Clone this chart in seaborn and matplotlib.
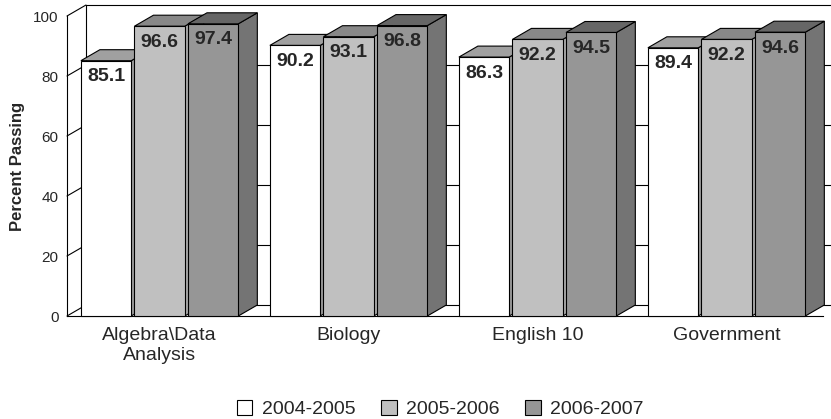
import numpy as np
import pandas as pd
import matplotlib
matplotlib.use("Agg")
import matplotlib.pyplot as plt
from matplotlib.patches import Polygon, Patch
import seaborn as sns

# ----------------------------
# Data
# ----------------------------
subjects = ["Algebra\\Data\nAnalysis", "Biology", "English 10", "Government"]
years = ["2004-2005", "2005-2006", "2006-2007"]
pass_0405 = [85.1, 90.2, 86.3, 89.4]
pass_0506 = [96.6, 93.1, 92.2, 92.2]
pass_0607 = [97.4, 96.8, 94.5, 94.6]

front_colors = ["#ffffff", "#c0c0c0", "#969696"]
top_colors = ["#a0a0a0", "#888888", "#666666"]
side_colors = ["#9a9a9a", "#a8a8a8", "#747474"]

df = pd.DataFrame({
    "Subject": subjects * 3,
    "Year": np.repeat(years, len(subjects)),
    "Percent": pass_0405 + pass_0506 + pass_0607,
})

sns.set_style("white")
plt.rcParams["font.family"] = ["Liberation Sans", "DejaVu Sans"]

fig = plt.figure(figsize=(8.31, 4.19), dpi=100)
ax = fig.add_axes([67 / 831, 1 - 316 / 419, 756 / 831, 300 / 419])

sns.barplot(
    data=df, x="Subject", y="Percent", hue="Year",
    palette=front_colors, edgecolor="black", linewidth=0.8,
    width=0.85, gap=0.06, legend=False, ax=ax, errorbar=None,
)

xmin, xmax = -0.49, 3.51
ax.set_xlim(xmin, xmax)
ax.set_ylim(0, 100)

# 3D depth offsets (data units)
dx = 19 / 189
dy = 11 / 3

# back wall grid + left wall
for v in range(0, 101, 20):
    ax.plot([xmin, xmin + dx], [v, v + dy], color="black", lw=0.8,
            clip_on=False, zorder=0.5)
    ax.plot([xmin + dx, xmax + 0.2], [v + dy, v + dy], color="black",
            lw=0.8, clip_on=False, zorder=0.5)
ax.plot([xmin + dx, xmin + dx], [dy, 100 + dy], color="black", lw=0.8,
        clip_on=False, zorder=0.5)

# 3D faces for each bar, drawn left to right
bars = sorted(ax.patches, key=lambda p: p.get_x())
for i, bar in enumerate(bars):
    x0 = bar.get_x()
    x1 = x0 + bar.get_width()
    h = bar.get_height()
    k = front_colors.index(matplotlib.colors.to_hex(bar.get_facecolor()))
    z = 2 + i * 0.01
    top = Polygon([(x0, h), (x1, h), (x1 + dx, h + dy), (x0 + dx, h + dy)],
                  closed=True, facecolor=top_colors[k], edgecolor="black",
                  lw=0.8, clip_on=False, zorder=z)
    side = Polygon([(x1, 0), (x1 + dx, dy), (x1 + dx, h + dy), (x1, h)],
                   closed=True, facecolor=side_colors[k], edgecolor="black",
                   lw=0.8, clip_on=False, zorder=z)
    ax.add_patch(side)
    ax.add_patch(top)
    bar.set_zorder(z + 0.001)
    bar.set_clip_on(False)
    ax.annotate(f"{h:.1f}", (x0 + bar.get_width() / 2, h),
                xytext=(0, -11.5), textcoords="offset points",
                ha="center", va="center", fontsize=14,
                fontweight="bold", zorder=z + 0.002)

for s in ["top", "right"]:
    ax.spines[s].set_visible(False)
for s in ["left", "bottom"]:
    ax.spines[s].set_color("black")
    ax.spines[s].set_linewidth(0.8)
    ax.spines[s].set_zorder(1)

ax.set_yticks(range(0, 101, 20))
ax.tick_params(axis="both", length=0, labelsize=11, pad=6)
ax.tick_params(axis="x", labelsize=14, pad=8)
ax.set_xlabel("")
ax.set_ylabel("Percent Passing", fontsize=12, fontweight="bold", labelpad=6)

handles = [Patch(facecolor=c, edgecolor="black", lw=0.8) for c in front_colors]
fig.legend(handles, years, loc="center", bbox_to_anchor=(0.53, 1 - 409 / 419),
           ncol=3, frameon=False, fontsize=14, handlelength=0.8,
           handleheight=0.8, handletextpad=0.5, columnspacing=1.3)

fig.savefig("out.png", dpi=100)
